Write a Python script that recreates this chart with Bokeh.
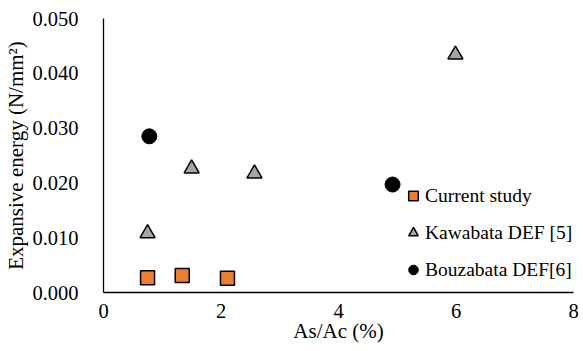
from bokeh.plotting import figure
from bokeh.models import Range1d, Legend, LegendItem, FixedTicker, CustomJSTickFormatter
from bokeh.embed import file_html
from bokeh.resources import INLINE

# As/Ac ratio (%) and expansive energy (N/mm²) per data source
current_x = [0.75, 1.34, 2.11]
current_y = [0.0027, 0.0031, 0.0026]

kawabata_x = [0.75, 1.50, 2.57, 5.99]
kawabata_y = [0.0108, 0.0226, 0.0217, 0.0434]

bouzabata_x = [0.78, 4.92]
bouzabata_y = [0.0285, 0.0197]

x_ticks = [0, 2, 4, 6, 8]
y_ticks = [0.0, 0.01, 0.02, 0.03, 0.04, 0.05]

FONT = "Liberation Serif"
TICK_FS = "20.5px"
LABEL_FS = "21px"
LEGEND_FS = "19.5px"

p = figure(width=583, height=351, output_backend="svg", toolbar_location=None,
           x_range=Range1d(0, 8), y_range=Range1d(0, 0.05),
           min_border_left=103, min_border_right=10,
           min_border_top=18, min_border_bottom=59)
p.outline_line_color = None
p.xgrid.grid_line_color = None
p.ygrid.grid_line_color = None

r_cur = p.scatter(current_x, current_y, marker="square", size=14,
                  fill_color="#ED7D31", line_color="black", line_width=1.5)
r_kaw = p.scatter(kawabata_x, kawabata_y, marker="triangle", size=15,
                  fill_color="#A5A5A5", line_color="black", line_width=1.5)
r_bou = p.scatter(bouzabata_x, bouzabata_y, marker="circle", size=15,
                  fill_color="black", line_color="black", line_width=1)

for ax in (p.xaxis[0], p.yaxis[0]):
    ax.axis_line_color = "black"
    ax.axis_line_width = 1.3
    ax.major_tick_line_color = None
    ax.minor_tick_line_color = None
    ax.major_label_text_font = FONT
    ax.major_label_text_font_size = TICK_FS
    ax.major_label_text_color = "black"
    ax.axis_label_text_font = FONT
    ax.axis_label_text_font_size = LABEL_FS
    ax.axis_label_text_font_style = "normal"
    ax.axis_label_text_color = "black"

p.xaxis.ticker = FixedTicker(ticks=x_ticks)
p.yaxis.ticker = FixedTicker(ticks=y_ticks)
p.yaxis.formatter = CustomJSTickFormatter(code="return tick.toFixed(3);")
p.xaxis.formatter = CustomJSTickFormatter(code="return tick.toFixed(0);")
p.xaxis.major_label_standoff = 5
p.yaxis.major_label_standoff = 19
p.xaxis.axis_label = "As/Ac (%)"
p.yaxis.axis_label = "Expansive energy (N/mm²)"
p.xaxis.axis_label_standoff = -2
p.yaxis.axis_label_standoff = 1

legend = Legend(items=[
    LegendItem(label="Current study", renderers=[r_cur]),
    LegendItem(label="Kawabata DEF [5]", renderers=[r_kaw]),
    LegendItem(label="Bouzabata DEF[6]", renderers=[r_bou]),
], location=(298, 4), orientation="vertical",
    glyph_width=24, glyph_height=37, label_height=37, label_standoff=0,
    spacing=0, padding=0, margin=0,
    border_line_color=None, background_fill_alpha=0,
    label_text_font=FONT, label_text_font_size=LEGEND_FS, label_text_color="black")
p.add_layout(legend, "center")

open("out.html", "w").write(file_html(p, INLINE))
